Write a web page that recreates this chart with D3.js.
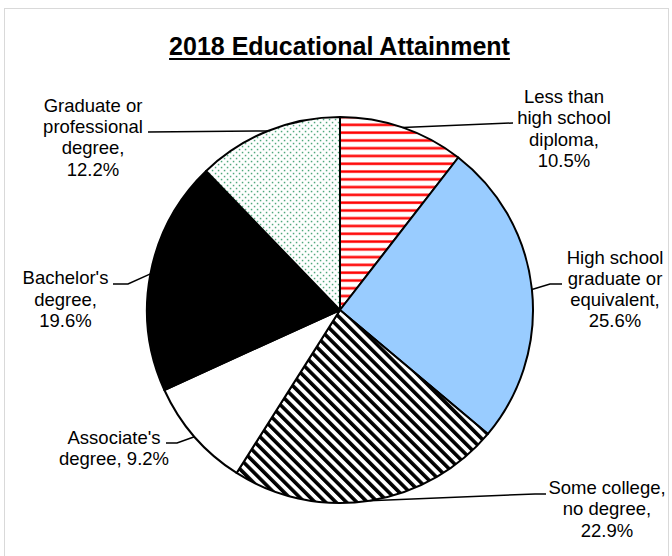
<!DOCTYPE html>
<html>
<head>
<meta charset="utf-8">
<script src="https://cdn.jsdelivr.net/npm/d3@7"></script>
<style>
  html, body { margin: 0; padding: 0; background: #fff; }
  svg { display: block; font-family: "Liberation Sans", Arial, sans-serif; }
</style>
</head>
<body>
<div id="chart"></div>
<script>
// data
const categories = [
  "Less than high school diploma",
  "High school graduate or equivalent",
  "Some college, no degree",
  "Associate's degree",
  "Bachelor's degree",
  "Graduate or professional degree"
];
const values = [10.5, 25.6, 22.9, 9.2, 19.6, 12.2];
const labelLines = [
  ["Less than", "high school", "diploma,", "{v}"],
  ["High school", "graduate or", "equivalent,", "{v}"],
  ["Some college,", "no degree,", "{v}"],
  ["Associate's", "degree, {v}"],
  ["Bachelor's", "degree,", "{v}"],
  ["Graduate or", "professional", "degree,", "{v}"]
];
const fills = ["url(#redStripes)", "#99ccff", "url(#diagStripes)", "#ffffff", "#000000", "url(#greenDots)"];

const width = 672;
const height = 556;
const cx = 340, cy = 310, radius = 193;

// where each label sits and where its leader line ends
const labelLayout = [
  { x: 564, y: 103,   end: [513, 123] },
  { x: 615, y: 263.5, elbow: [550, 284], end: [562, 284] },
  { x: 607, y: 494,   elbow: [535, 494], end: [546, 494] },
  { x: 114, y: 444,   elbow: [177, 443], end: [166, 443] },
  { x: 65.5, y: 284.3, elbow: [128, 284], end: [113, 284] },
  { x: 93,  y: 111.7, end: [148, 132] }
];

const svg = d3.select("#chart").append("svg")
  .attr("width", width)
  .attr("height", height);

// patterns
const defs = svg.append("defs");

const red = defs.append("pattern")
  .attr("id", "redStripes")
  .attr("patternUnits", "userSpaceOnUse")
  .attr("width", 8).attr("height", 7.78);
red.append("rect").attr("width", 8).attr("height", 7.78).attr("fill", "#fff");
red.append("rect").attr("y", 0).attr("width", 8).attr("height", 3.2).attr("fill", "#ffb3b3");
red.append("rect").attr("y", 0.5).attr("width", 8).attr("height", 2.2).attr("fill", "#ff0000");

const diag = defs.append("pattern")
  .attr("id", "diagStripes")
  .attr("patternUnits", "userSpaceOnUse")
  .attr("width", 7.4).attr("height", 10)
  .attr("patternTransform", "rotate(-45)");
diag.append("rect").attr("width", 7.4).attr("height", 10).attr("fill", "#fff");
diag.append("rect").attr("width", 3.6).attr("height", 10).attr("fill", "#000");

const dots = defs.append("pattern")
  .attr("id", "greenDots")
  .attr("patternUnits", "userSpaceOnUse")
  .attr("width", 6).attr("height", 6);
dots.append("rect").attr("width", 6).attr("height", 6).attr("fill", "#fff");
dots.append("rect").attr("x", 0.8).attr("y", 0.8).attr("width", 1.5).attr("height", 1.5).attr("fill", "#4fa87c");
dots.append("rect").attr("x", 3.8).attr("y", 3.8).attr("width", 1.5).attr("height", 1.5).attr("fill", "#4fa87c");

// chart area border
svg.append("rect")
  .attr("x", 4.5).attr("y", 8.5)
  .attr("width", 664).attr("height", 600)
  .attr("fill", "none")
  .attr("stroke", "#d9d9d9")
  .attr("stroke-width", 1);

// title
const title = svg.append("text")
  .attr("x", 339.5)
  .attr("y", 55)
  .attr("text-anchor", "middle")
  .attr("font-size", 25)
  .attr("font-weight", "bold")
  .text("2018 Educational Attainment");
const tw = title.node().getComputedTextLength();
svg.append("line")
  .attr("x1", 339.5 - tw / 2).attr("x2", 339.5 + tw / 2)
  .attr("y1", 59).attr("y2", 59)
  .attr("stroke", "#000").attr("stroke-width", 2);

// pie
const pie = d3.pie().sort(null).value((d) => d);
const arcs = pie(values);
const arc = d3.arc().innerRadius(0).outerRadius(radius);

const g = svg.append("g").attr("transform", `translate(${cx},${cy})`);

g.selectAll("path.slice")
  .data(arcs)
  .join("path")
  .attr("class", "slice")
  .attr("d", arc)
  .attr("fill", (d, i) => fills[i])
  .attr("stroke", "#000")
  .attr("stroke-width", 2)
  .attr("stroke-linejoin", "round");

// leader lines
const fmt = (v) => d3.format(".1f")(v) + "%";

svg.selectAll("polyline.leader")
  .data(arcs)
  .join("polyline")
  .attr("class", "leader")
  .attr("points", (d, i) => {
    const mid = (d.startAngle + d.endAngle) / 2;
    const start = [cx + radius * Math.sin(mid), cy - radius * Math.cos(mid)];
    const L = labelLayout[i];
    const pts = [start];
    if (L.elbow) pts.push(L.elbow);
    pts.push(L.end);
    return pts.map((p) => p.join(",")).join(" ");
  })
  .attr("fill", "none")
  .attr("stroke", "#000")
  .attr("stroke-width", 1.5);

// labels
const labels = svg.selectAll("text.label")
  .data(arcs)
  .join("text")
  .attr("class", "label")
  .attr("text-anchor", "middle")
  .attr("font-size", 18.5)
  .attr("fill", "#000");

labels.each(function (d, i) {
  const L = labelLayout[i];
  d3.select(this).selectAll("tspan")
    .data(labelLines[i].map((s) => s.replace("{v}", fmt(values[i]))))
    .join("tspan")
    .attr("x", L.x)
    .attr("y", (s, j) => L.y + j * 21.3)
    .text((s) => s);
});
</script>
</body>
</html>
